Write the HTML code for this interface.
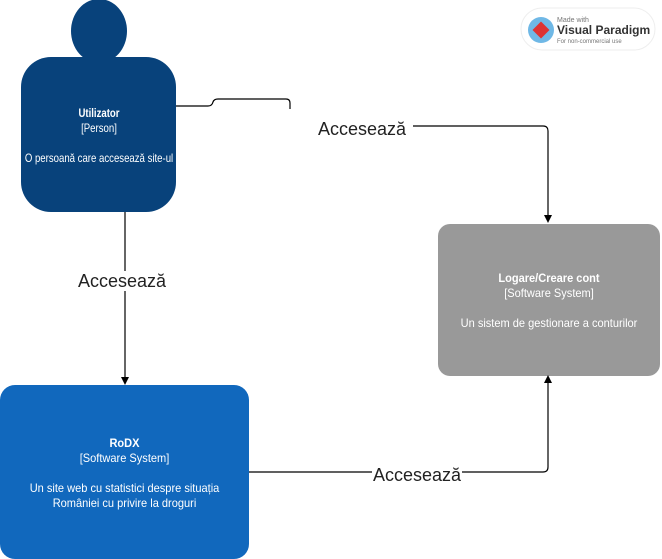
<!DOCTYPE html>
<html><head><meta charset="utf-8"><style>
body{margin:0;width:662px;height:559px;background:#fff;position:relative;overflow:hidden;font-family:"Liberation Sans",sans-serif}
.t{position:absolute;color:#fff;font-size:12px;text-align:center;line-height:15px;white-space:nowrap}
.lbl{position:absolute;font-size:18px;color:#222;background:#fff;line-height:20px;padding:0 1px}
</style></head><body>
<svg width="662" height="559" style="position:absolute;left:0;top:0">
<ellipse cx="99" cy="31" rx="28" ry="32" fill="#08427b"/>
<rect x="21" y="57" width="155" height="155" rx="30" fill="#08427b"/>
<rect x="438" y="224" width="222" height="152" rx="12" fill="#999"/>
<rect x="0" y="385" width="249" height="174" rx="15" fill="#1168bd"/>
<g fill="none" stroke="#000" stroke-width="1.2">
<path d="M176 106 H208 Q212 106 213 102 Q214 99 218 99 H286 Q290 99 290 103 V109"/>
<path d="M413 126 H543 Q548 126 548 131 V216"/>
<path d="M125 212 V378"/>
<path d="M249 472 H543 Q548 472 548 467 V382"/>
</g>
<g fill="#000">
<path d="M544 215 L548 223 L552 215 Z"/>
<path d="M121 377 L125 385 L129 377 Z"/>
<path d="M544 383 L548 375 L552 383 Z"/>
</g>
<rect x="521" y="8" width="134" height="42" rx="21" fill="#fff" stroke="#eee"/>
<circle cx="541" cy="30" r="13" fill="#6fb8e6"/>
<rect x="535" y="24" width="12" height="12" fill="#d33" transform="rotate(45 541 30)"/>
<text x="557" y="22" font-size="7" fill="#777" font-family="Liberation Sans">Made with</text>
<text x="557" y="34" font-size="12" fill="#333" font-family="Liberation Sans" font-weight="bold">Visual Paradigm</text>
<text x="557" y="43" font-size="6" fill="#777" font-family="Liberation Sans">For non-commercial use</text>
</svg>
<div class="t" style="left:-21px;top:106px;width:240px;transform:scaleX(0.8);transform-origin:120px 0"><b>Utilizator</b><br>[Person]<br><br>O persoană care accesează site-ul</div>
<div class="t" style="left:438px;top:271px;width:222px;transform:scaleX(0.92)"><b>Logare/Creare cont</b><br>[Software System]<br><br>Un sistem de gestionare a conturilor</div>
<div class="t" style="left:0;top:436px;width:249px;transform:scaleX(0.92)"><b>RoDX</b><br>[Software System]<br><br>Un site web cu statistici despre situația<br>României cu privire la droguri</div>
<div class="lbl" style="left:317px;top:119px">Accesează</div>
<div class="lbl" style="left:77px;top:271px">Accesează</div>
<div class="lbl" style="left:372px;top:465px">Accesează</div>
</body></html>
